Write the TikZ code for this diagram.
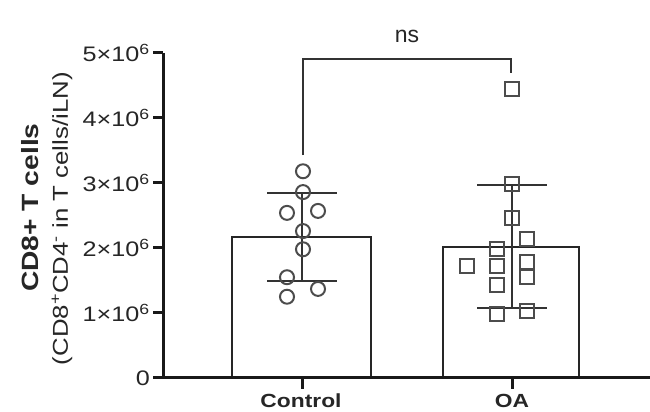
\documentclass[tikz,border=0pt]{standalone}
\usepackage{fontspec}
\setmainfont{Liberation Sans}
\newfontfamily\widesf[FakeStretch=1.2]{Liberation Sans}

\begin{document}
\begin{tikzpicture}[x=1pt, y=65pt,
  every node/.style = {inner sep=0pt, text=black!85},
  axis/.style = {line width=3pt, black!90},
  bar/.style = {draw=black!85, line width=2pt, fill=white},
  errbar/.style = {line width=2pt, black!80},
  ctrlmark/.style = {draw=black!70, circle, line width=2pt, minimum size=14pt},
  oamark/.style = {draw=black!70, rectangle, line width=2pt, minimum size=14pt},
  ticklabel/.style = {anchor=east, font=\widesf\fontsize{21}{21}\selectfont},
  grouplabel/.style = {anchor=base, font=\widesf\bfseries\fontsize{19}{19}\selectfont}]
  \fill[white] (0,-0.523) rectangle (650,5.815);
  \useasboundingbox (0,-0.523) rectangle (650,5.815);
  % bars
  \draw[bar] (232,0) rectangle (371,2.17);
  \draw[bar] (443,0) rectangle (579,2.02);
  % axes
  \draw[axis] (163,5) -- (163,0) -- (650,0);
  \foreach \v in {0,...,5}
    \draw[axis] (153,\v) -- (163,\v);
  \node[ticklabel] (tick0) at (150,0) {0};
  \foreach \v in {1,...,5}
    \node[ticklabel] (tick\v) at (150,\v) {\v×10\textsuperscript{6}};
  \draw[axis] (302,0) -- (302,-0.17);
  \draw[axis] (512,0) -- (512,-0.17);
  \node[grouplabel] (ctrl) at (301,-0.455) {Control};
  \node[grouplabel] (oa) at (512,-0.455) {OA};
  % axis title
  \node[rotate=90, font=\widesf\bfseries\fontsize{23.5}{24}\selectfont] (ytitle) at (30,2.62) {CD8+ T cells};
  \node[rotate=90, font=\widesf\fontsize{21.5}{22}\selectfont] (ysub) at (62,2.45)
    {(CD8\textsuperscript{+}CD4\textsuperscript{-} in T cells/iLN)};
  % error bars
  \draw[errbar] (302,1.49) -- (302,2.85) (267,2.85) -- (337,2.85) (267,1.49) -- (337,1.49);
  \draw[errbar] (512,1.08) -- (512,2.97) (477,2.97) -- (547,2.97) (477,1.08) -- (547,1.08);
  % points
  \foreach \x/\v [count=\i] in {303/3.18, 303/2.86, 287/2.54, 318/2.57, 303/2.26,
                                303/1.98, 287/1.55, 318/1.37, 287/1.25}
    \node[ctrlmark] (c\i) at (\x,\v) {};
  \foreach \x/\v [count=\i] in {512/4.45, 512/2.98, 512/2.46, 527/2.14, 497/1.98, 467/1.72,
                                497/1.72, 527/1.78, 527/1.55, 497/1.43, 527/1.03, 497/0.98}
    \node[oamark] (o\i) at (\x,\v) {};
  % significance
  \coordinate (bl) at (303,3.43);
  \coordinate (br) at (511,4.69);
  \draw[errbar] (bl) -- (bl |- 0,4.91) -- (br |- 0,4.91) -- (br);
  \node[font=\fontsize{23}{23}\selectfont] (ns) at (407,5.25) {ns};
\end{tikzpicture}
\end{document}
